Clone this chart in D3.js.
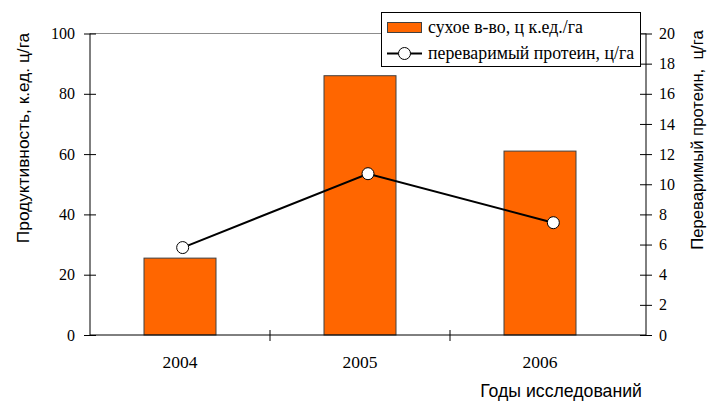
<!DOCTYPE html>
<html>
<head>
<meta charset="utf-8">
<script src="https://cdn.jsdelivr.net/npm/d3@7"></script>
<style>
  html, body { margin: 0; padding: 0; background: #fff; }
  svg { display: block; }
</style>
</head>
<body>
<svg id="chart" width="713" height="403"></svg>
<script>
// Data
const years = ["2004", "2005", "2006"];
const dryMatter = [25.5, 86, 61];        // сухое в-во, ц к.ед./га (left axis)
const protein = [5.8, 10.7, 7.45];       // переваримый протеин, ц/га (right axis)
const leftTicks = [0, 20, 40, 60, 80, 100];
const rightTicks = [0, 2, 4, 6, 8, 10, 12, 14, 16, 18, 20];

const svg = d3.select("#chart");
const serif = "'Liberation Serif', 'Times New Roman', serif";
const sans = "'Liberation Sans', Arial, sans-serif";

const plotLeft = 90, plotRight = 646, plotTop = 33.5, plotBottom = 335;

// Scales
const xBar = d3.scaleBand().domain(years).range([plotLeft, 630]).paddingInner(0.6).paddingOuter(0.3);
const xCat = d3.scaleBand().domain(years).range([plotLeft, 630]);
const xLine = d3.scaleBand().domain(years).range([plotLeft, plotRight]);
const yL = d3.scaleLinear().domain([0, 100]).range([plotBottom, plotTop]);
const yR = d3.scaleLinear().domain([0, 20]).range([plotBottom, plotTop]);

// Plot area top border
svg.append("line")
  .attr("x1", plotLeft).attr("x2", plotRight).attr("y1", plotTop).attr("y2", plotTop)
  .attr("stroke", "#8c8c8c").attr("stroke-width", 1);

// Bars
svg.append("g").selectAll("rect").data(years).join("rect")
  .attr("x", d => xBar(d))
  .attr("width", xBar.bandwidth())
  .attr("y", (d, i) => yL(dryMatter[i]))
  .attr("height", (d, i) => yL(0) - yL(dryMatter[i]))
  .attr("fill", "#FF6600")
  .attr("stroke", "#404040")
  .attr("stroke-width", 1);

// Left axis
const axL = svg.append("g").attr("transform", `translate(${plotLeft},0)`)
  .call(d3.axisLeft(yL).tickValues(leftTicks).tickSize(6).tickPadding(9));
axL.selectAll(".tick line").attr("x1", 6).attr("x2", -6);

// Right axis
const axR = svg.append("g").attr("transform", `translate(${plotRight},0)`)
  .call(d3.axisRight(yR).tickValues(rightTicks).tickSize(6).tickPadding(7));
axR.selectAll(".tick line").attr("x1", -6).attr("x2", 6);

[axL, axR].forEach(ax => {
  ax.select(".domain").remove();
  ax.selectAll(".tick line").attr("stroke", "#000");
  ax.selectAll(".tick text").attr("font-family", serif).attr("font-size", 16).attr("fill", "#000");
});
svg.append("line").attr("x1", plotLeft).attr("x2", plotLeft).attr("y1", plotTop).attr("y2", plotBottom).attr("stroke", "#000");
svg.append("line").attr("x1", plotRight).attr("x2", plotRight).attr("y1", plotTop).attr("y2", plotBottom).attr("stroke", "#000");

// Bottom axis: category separators and labels
const axB = svg.append("g").attr("transform", `translate(0,${plotBottom})`);
axB.append("line").attr("x1", plotLeft).attr("x2", plotRight).attr("stroke", "#000");
axB.selectAll("line.sep").data(years.slice(1)).join("line")
  .attr("class", "sep")
  .attr("x1", d => xCat(d)).attr("x2", d => xCat(d))
  .attr("y1", -5).attr("y2", 6)
  .attr("stroke", "#000");
axB.selectAll("text").data(years).join("text")
  .attr("x", d => xCat(d) + xCat.bandwidth() / 2)
  .attr("y", 33)
  .attr("text-anchor", "middle")
  .attr("font-family", serif).attr("font-size", 17.5)
  .text(d => d);

// Protein line
const linePts = years.map((d, i) => [xLine(d) + xLine.bandwidth() / 2, yR(protein[i])]);
svg.append("path")
  .attr("d", d3.line()(linePts))
  .attr("fill", "none").attr("stroke", "#000").attr("stroke-width", 2);
svg.append("g").selectAll("circle").data(linePts).join("circle")
  .attr("cx", d => d[0]).attr("cy", d => d[1]).attr("r", 6)
  .attr("fill", "#fff").attr("stroke", "#000").attr("stroke-width", 1);

// Axis titles
svg.append("text")
  .attr("transform", "translate(29,138) rotate(-90)")
  .attr("text-anchor", "middle")
  .attr("font-family", sans).attr("font-size", 17.3)
  .text("Продуктивность, к.ед. ц/га");
svg.append("text")
  .attr("transform", "translate(703,140) rotate(-90)")
  .attr("text-anchor", "middle")
  .attr("font-family", sans).attr("font-size", 16.7)
  .style("white-space", "pre")
  .text("Переваримый протеин,  ц/га");
svg.append("text")
  .attr("x", 642).attr("y", 397)
  .attr("text-anchor", "end")
  .attr("font-family", sans).attr("font-size", 17.7)
  .text("Годы исследований");

// Legend
const lg = svg.append("g");
lg.append("rect").attr("x", 381.5).attr("y", 12.5).attr("width", 259).attr("height", 54)
  .attr("fill", "#fff").attr("stroke", "#000").attr("stroke-width", 1);
lg.append("rect").attr("x", 387.5).attr("y", 22.5).attr("width", 34).attr("height", 10)
  .attr("fill", "#FF6600").attr("stroke", "#404040");
lg.append("text").attr("x", 428).attr("y", 33)
  .attr("font-family", serif).attr("font-size", 17.8)
  .text("сухое в-во, ц к.ед./га");
lg.append("line").attr("x1", 387).attr("x2", 422).attr("y1", 53.5).attr("y2", 53.5)
  .attr("stroke", "#000").attr("stroke-width", 2);
lg.append("circle").attr("cx", 404.5).attr("cy", 53.5).attr("r", 6)
  .attr("fill", "#fff").attr("stroke", "#000");
lg.append("text").attr("x", 428).attr("y", 59)
  .attr("font-family", serif).attr("font-size", 17.8)
  .text("переваримый протеин, ц/га");
</script>
</body>
</html>
